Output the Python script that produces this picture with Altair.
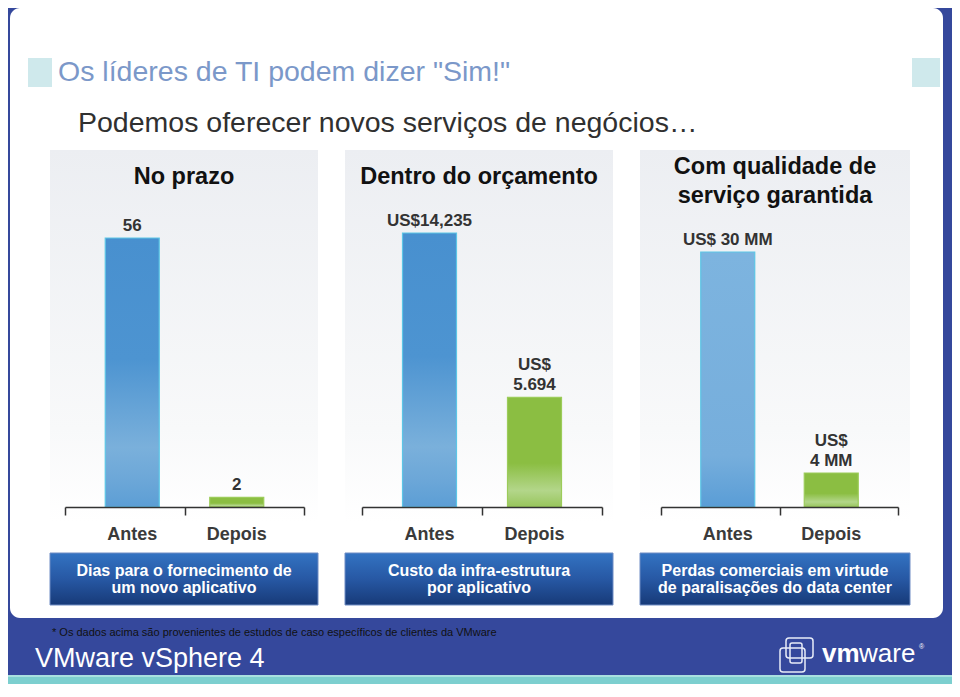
import altair as alt
import pandas as pd

# ---------------- data ----------------
PERIODS = ["Antes", "Depois"]
PRAZO_VALUES = [56, 2]
ORCAMENTO_VALUES = [14235, 5694]
QUALIDADE_VALUES = [30, 4]
# value labels: upper line (may be empty) and lower line
PRAZO_LABEL_UPPER = ["", ""]
PRAZO_LABEL_LOWER = ["56", "2"]
ORCAMENTO_LABEL_UPPER = ["", "US$"]
ORCAMENTO_LABEL_LOWER = ["US$14,235", "5.694"]
QUALIDADE_LABEL_UPPER = ["", "US$"]
QUALIDADE_LABEL_LOWER = ["US$ 30 MM", "4 MM"]
PANEL_TITLES = [["No prazo"], ["Dentro do orçamento"], ["Com qualidade de", "serviço garantida"]]
CAPTIONS = [
    ["Dias para o fornecimento de", "um novo aplicativo"],
    ["Custo da infra-estrutura", "por aplicativo"],
    ["Perdas comerciais em virtude", "de paralisações do data center"],
]
TITLE = 'Os líderes de TI podem dizer "Sim!"'
SUBTITLE = "Podemos oferecer novos serviços de negócios…"
FOOTNOTE = "* Os dados acima são provenientes de estudos de caso específicos de clientes da VMware"
PRODUCT = "VMware vSphere 4"

# ---------------- layout / style ----------------
W, H = 944, 676
Y_BASE = 499
AXIS_OFFSET = Y_BASE - H
SANS = "Liberation Sans, Arial, Helvetica, sans-serif"
BLUE_FRAME = "#35489c"

dummy = pd.DataFrame({"k": [0]})


def grad(stops):
    return alt.Gradient(
        gradient="linear", x1=0, y1=0, x2=0, y2=1,
        stops=[alt.GradientStop(offset=o, color=c) for o, c in stops],
    )


def rect(x, x2, y, y2, **kw):
    return alt.Chart(dummy).mark_rect(**kw).encode(
        x=alt.value(x), x2=alt.value(x2), y=alt.value(y), y2=alt.value(y2)
    )


def text(t, x, y, **kw):
    return alt.Chart(dummy).mark_text(text=t, **kw).encode(x=alt.value(x), y=alt.value(y))


BLUE_BAR = grad([(0, "#4890cf"), (0.45, "#4d94d1"), (0.78, "#7ab0db"), (0.9, "#6ca7d8"), (1, "#5c9ed5")])
BLUE_BAR_LIGHT = grad([(0, "#7db4df"), (0.8, "#76aedc"), (1, "#5a9dd6")])
GREEN_BAR = grad([(0, "#8bbe42"), (0.6, "#8bbe42"), (0.85, "#b3d68a"), (1, "#98c55c")])
PANEL_BG = grad([(0, "#eceef2"), (0.75, "#f8f9fa"), (1, "#ffffff")])
CAPTION_BG = grad([(0, "#3373c2"), (0.5, "#2758a4"), (1, "#173a78")])

PANELS = [
    dict(values=PRAZO_VALUES, upper=PRAZO_LABEL_UPPER, lower=PRAZO_LABEL_LOWER,
         bg=(42, 310), axis=[57, 296], bars=[72, 281], top=230, fills=(BLUE_BAR, GREEN_BAR)),
    dict(values=ORCAMENTO_VALUES, upper=ORCAMENTO_LABEL_UPPER, lower=ORCAMENTO_LABEL_LOWER,
         bg=(337, 605), axis=[354, 594], bars=[369, 579], top=225, fills=(BLUE_BAR, GREEN_BAR)),
    dict(values=QUALIDADE_VALUES, upper=QUALIDADE_LABEL_UPPER, lower=QUALIDADE_LABEL_LOWER,
         bg=(632, 902), axis=[653, 890], bars=[668, 875], top=244, fills=(BLUE_BAR_LIGHT, GREEN_BAR)),
]

layers = []

# slide card and frame
layers.append(rect(2, 935, 0, 610, fill="white", cornerRadius=10))
layers.append(rect(0, W, 668, H, fill="#7ccfcf"))
layers.append(rect(0, W, 667, 669, fill="#a9e0e0"))
layers.append(rect(20, 44, 50, 79, fill="#cfe9ec"))
layers.append(rect(904, 932, 50, 79, fill="#cfe9ec"))
layers.append(text(TITLE, 50, 73, align="left", baseline="alphabetic", font=SANS,
                   fontSize=28.5, color="#7b98c9"))
layers.append(text(SUBTITLE, 70, 124, align="left", baseline="alphabetic", font=SANS,
                   fontSize=28.5, color="#303030"))

for i, p in enumerate(PANELS):
    x0, x1 = p["bg"]
    cx = (x0 + x1) / 2
    layers.append(rect(x0, x1, 142, 514, fill=PANEL_BG))
    # panel title
    tl = PANEL_TITLES[i]
    ys = [176] if len(tl) == 1 else [166, 195]
    for line, yy in zip(tl, ys):
        layers.append(text(line, cx, yy, align="center", baseline="alphabetic", font=SANS,
                           fontSize=23.5, fontWeight="bold", color="#111111"))
    # caption box
    layers.append(rect(x0, x1, 545, 597, fill=CAPTION_BG, stroke="#6e8cc4", strokeWidth=1))
    layers.append(text(CAPTIONS[i][0], cx, 568, align="center", baseline="alphabetic", font=SANS,
                       fontSize=16, fontWeight="bold", color="white"))
    layers.append(text(CAPTIONS[i][1], cx, 585, align="center", baseline="alphabetic", font=SANS,
                       fontSize=16, fontWeight="bold", color="white"))

    df = pd.DataFrame({"period": PERIODS, "value": p["values"],
                       "upper": p["upper"], "lower": p["lower"]})
    yscale = alt.Scale(domain=[0, max(p["values"])], range=[Y_BASE, p["top"]], nice=False, zero=True)
    xbar = alt.Scale(domain=PERIODS, range=p["bars"], paddingInner=0, paddingOuter=0)
    xaxis = alt.Scale(domain=PERIODS, range=p["axis"], paddingInner=0, paddingOuter=0)
    base = alt.Chart(df)

    # bars
    for j, period in enumerate(PERIODS):
        axis = None
        if j == 0:
            axis = alt.Axis(orient="bottom", offset=AXIS_OFFSET, domain=False, ticks=False,
                            tickSize=0, labelPadding=18, labelFontSize=18, labelFontWeight="bold",
                            labelColor="#3a3a3a", labelFont=SANS, labelAngle=0, title=None,
                            grid=False, zindex=2)
        layers.append(base.transform_filter(alt.datum.period == period).mark_bar(
            size=54, fill=p["fills"][j],
            stroke="#5cc6e6" if j == 0 else "#9ccc5a", strokeWidth=1.2,
        ).encode(
            x=alt.X("period:N", scale=xbar, axis=axis),
            y=alt.Y("value:Q", scale=yscale, axis=None),
        ))
    # axis line with ticks on band edges
    layers.append(base.mark_point(opacity=0).encode(
        x=alt.X("period:N", scale=xaxis, axis=alt.Axis(
            orient="bottom", offset=AXIS_OFFSET, labels=False, title=None,
            domainColor="#333333", domainWidth=1.5, tickColor="#333333", tickWidth=1.5,
            tickSize=8, tickBand="extent", grid=False, zindex=3)),
        y=alt.value(Y_BASE),
    ))
    # value labels (two lines)
    for field, dy in (("lower", -3), ("upper", -23)):
        layers.append(base.mark_text(
            baseline="bottom", dy=dy, fontSize=17, fontWeight="bold", color="#333333", font=SANS,
        ).encode(
            x=alt.X("period:N", scale=xbar, axis=None),
            y=alt.Y("value:Q", scale=yscale, axis=None),
            text=f"{field}:N",
        ))

# footer
layers.append(text(FOOTNOTE, 44, 628, align="left", baseline="alphabetic", font=SANS,
                   fontSize=11, color="#111111"))
layers.append(text(PRODUCT, 27, 659, align="left", baseline="alphabetic", font=SANS,
                   fontSize=27, color="white"))
layers.append(rect(772, 797, 640, 664, fill=None, stroke="#e8ecf7", strokeWidth=1.5, cornerRadius=3))
layers.append(rect(778, 805, 630, 650, fill=None, stroke="#e8ecf7", strokeWidth=1.5, cornerRadius=3))
layers.append(rect(782, 794, 635, 655, fill=None, stroke="#e8ecf7", strokeWidth=1.5, cornerRadius=2))
layers.append(text("vm", 814, 654, align="left", baseline="alphabetic", font=SANS,
                   fontSize=26, fontWeight="bold", color="white"))
layers.append(text("ware", 851, 654, align="left", baseline="alphabetic", font=SANS,
                   fontSize=26, color="white"))
layers.append(text("®", 911, 641, align="left", baseline="alphabetic", font=SANS,
                   fontSize=7, color="white"))

chart = alt.layer(*layers).resolve_scale(
    x="independent", y="independent"
).resolve_axis(
    x="independent", y="independent"
).properties(
    width=W, height=H, padding=0, background=BLUE_FRAME,
    autosize=alt.AutoSizeParams(type="none"),
).configure_view(stroke=None)

chart.save("out.html", embed_options={"renderer": "svg", "actions": False})
